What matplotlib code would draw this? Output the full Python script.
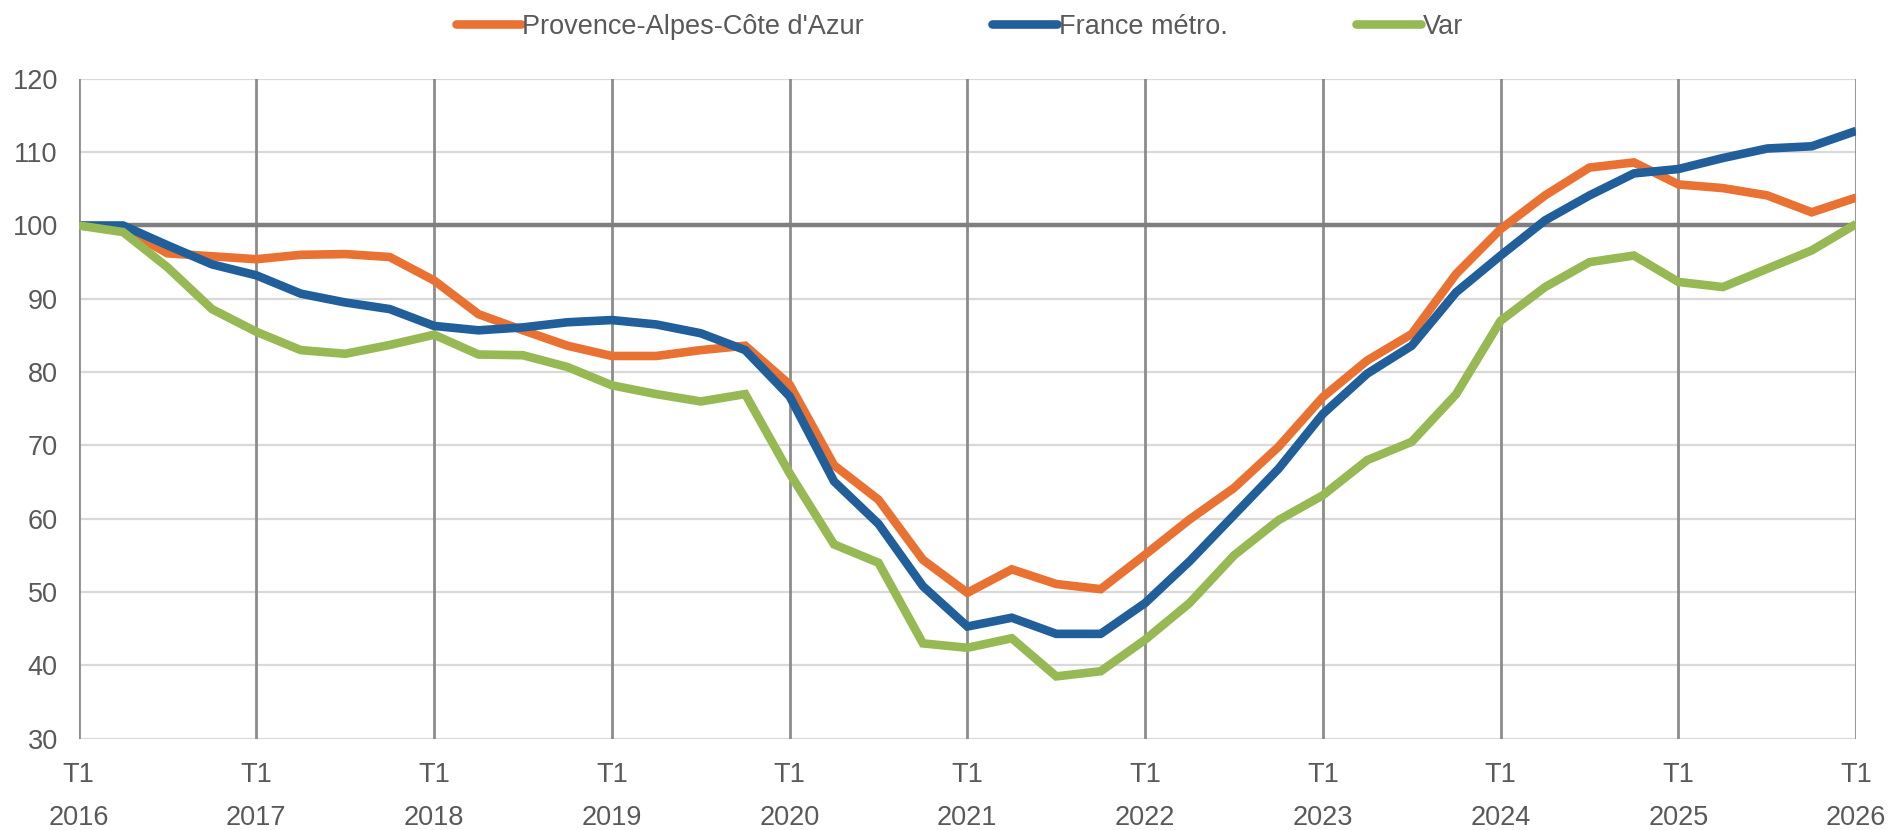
import matplotlib
matplotlib.use("Agg")
from matplotlib import pyplot as plt

plt.rcParams['font.family'] = ['Liberation Sans', 'DejaVu Sans']

# quarterly index, base 100 = T1 2016, from T1 2016 to T1 2026
YEARS = list(range(2016, 2027))
PACA = [100, 99.6, 96.2, 95.8, 95.4, 96.0, 96.1, 95.7, 92.5, 87.9, 85.7, 83.6,
        82.2, 82.2, 83.0, 83.6, 78.3, 67.3, 62.6, 54.4, 49.9, 53.1, 51.1, 50.4,
        55.1, 59.9, 64.2, 69.8, 76.6, 81.6, 85.2, 93.4, 99.5, 104.1, 107.9, 108.6,
        105.6, 105.1, 104.1, 101.8, 103.8]
FRANCE = [100, 100, 97.3, 94.7, 93.2, 90.7, 89.5, 88.6, 86.3, 85.7, 86.1, 86.8,
          87.1, 86.5, 85.3, 83.0, 76.7, 65.1, 59.3, 50.8, 45.3, 46.5, 44.3, 44.3,
          48.5, 54.2, 60.5, 66.8, 74.3, 79.8, 83.6, 90.9, 95.9, 100.7, 104.1, 107.1,
          107.7, 109.2, 110.5, 110.8, 112.9]
VAR = [100, 99.1, 94.3, 88.6, 85.5, 83.0, 82.5, 83.7, 85.1, 82.4, 82.3, 80.7,
       78.2, 77.0, 76.0, 77.0, 66.2, 56.5, 54.0, 43.0, 42.4, 43.7, 38.5, 39.2,
       43.5, 48.5, 55.0, 59.8, 63.2, 68.0, 70.5, 77.0, 87.0, 91.6, 95.0, 95.9,
       92.3, 91.6, 94.1, 96.6, 100.2]
SERIES = [("Provence-Alpes-Côte d'Azur", PACA, "#E97132"),
          ("France métro.", FRANCE, "#215F9A"),
          ("Var", VAR, "#97B954")]

TXT = "#595959"
q = list(range(len(PACA)))

fig = plt.figure(figsize=(18.94, 8.30), dpi=100)
ax = fig.add_axes([0.0415, 0.110, 0.9385, 0.795])

ax.set_xlim(0, len(PACA) - 1)
ax.set_ylim(30, 120)
ax.set_yticks(range(30, 121, 10))
ax.set_xticks(range(0, len(PACA), 4))
ax.set_xticklabels([f"T1\n{y}" for y in YEARS])

# horizontal light grid, vertical darker year lines
for v in range(30, 121, 10):
    ax.axhline(v, color="#D9D9D9", lw=1.6, zorder=0)
for x in range(0, len(PACA), 4):
    ax.axvline(x, color="#8C8C8C", lw=2.0, zorder=1)
ax.axhline(100, color="#7F7F7F", lw=3.2, zorder=2)

for name, vals, col in SERIES:
    ax.plot(q, vals, color=col, lw=6.2, label=name, zorder=3,
            solid_capstyle="butt", solid_joinstyle="miter")

for s in ax.spines.values():
    s.set_visible(False)
ax.tick_params(length=0, labelsize=19.5, colors=TXT)
ax.tick_params(axis="y", pad=15)
ax.tick_params(axis="x", pad=17)
for lab in ax.get_xticklabels():
    lab.set_linespacing(1.85)

leg = fig.legend(loc="center", bbox_to_anchor=(0.5065, 0.968), ncol=3, frameon=False,
                 fontsize=19.5, handlelength=2.4, handletextpad=0.05,
                 columnspacing=4.75, labelcolor=TXT)
for h in leg.get_lines():
    h.set_solid_capstyle("round")

fig.savefig("out.png", dpi=100)
